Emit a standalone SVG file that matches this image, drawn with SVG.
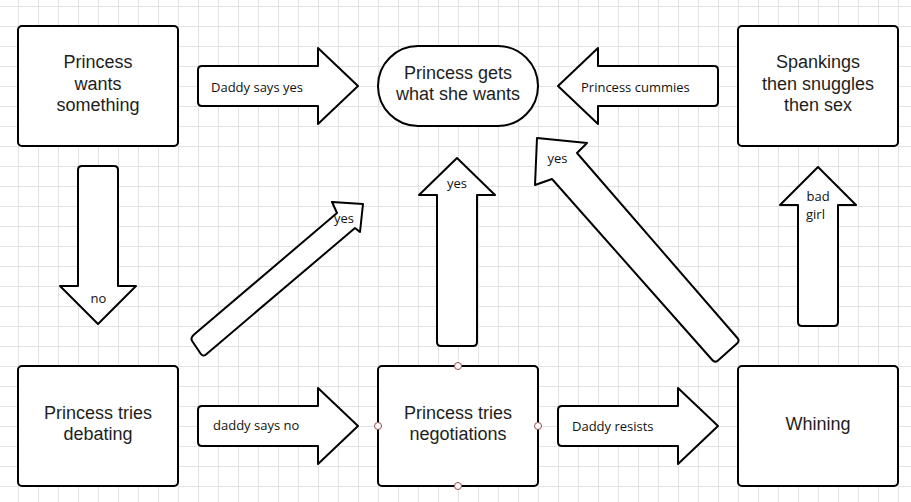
<svg xmlns="http://www.w3.org/2000/svg" width="911" height="502" viewBox="0 0 911 502">
<defs>
<pattern id="grid" patternUnits="userSpaceOnUse" x="18" y="6" width="20" height="20">
<path d="M0.5,0 V20 M0,0.5 H20" fill="none" stroke="#e3e3e3" stroke-width="1"/>
</pattern>
<style>
.box{fill:#fff;stroke:#000;stroke-width:2}
.arrow{fill:#fff;stroke:#000;stroke-width:2;stroke-linejoin:round}
.node{font-family:"Liberation Sans",Arial,sans-serif;font-size:18px;fill:#1e1e1e;text-anchor:middle}
.lbl{font-family:"Open Sans","Noto Sans",sans-serif;font-size:13px;fill:#111}
.pt{fill:#fff;stroke:#9b4a4a;stroke-width:1}
</style>
</defs>
<rect x="0" y="0" width="911" height="502" fill="#fff"/>
<rect x="0" y="0" width="911" height="502" fill="url(#grid)"/>

<g id="connectors">
<path class="arrow" d="M202,66 H318 V48 L358,86 L318,124 V106 H202 Q198,106 198,102 V70 Q198,66 202,66 Z"/>
<text class="lbl" x="211" y="92">Daddy says yes</text>
<path class="arrow" d="M714,66 H598 V48 L558,86 L598,124 V106 H714 Q718,106 718,102 V70 Q718,66 714,66 Z"/>
<text class="lbl" x="581" y="92">Princess cummies</text>
<path class="arrow" d="M78,170 Q78,166 82,166 H114 Q118,166 118,170 V286 H136 L98,324 L60,286 H78 Z"/>
<text class="lbl" x="90.5" y="302.5">no</text>
<path class="arrow" d="M193.8,334.8 L337,213 L332,202 L363,204 L360,232 L355,228 L206,354.4 Q203,357 200.7,353.7 L192.3,341.3 Q190,338 193.8,334.8 Z"/>
<text class="lbl" x="334" y="223">yes</text>
<path class="arrow" d="M437,342 V195 H419 L457,158 L495,195 H477 V342 Q477,346 473,346 H441 Q437,346 437,342 Z"/>
<text class="lbl" x="447" y="188">yes</text>
<path class="arrow" d="M537,138 L587,143 L577,153 L737.4,338 Q740,341 737,343.6 L718,360.4 Q715,363 712.3,360 L552,179 L535,185 Z"/>
<text class="lbl" x="547.5" y="163">yes</text>
<path class="arrow" d="M798,322 V205 H780 L818,167 L856,205 H838 V322 Q838,326 834,326 H802 Q798,326 798,322 Z"/>
<text class="lbl" x="806.5" y="201">bad</text>
<text class="lbl" x="806" y="219">girl</text>
<path class="arrow" d="M202,406 H318 V388 L358,426 L318,464 V446 H202 Q198,446 198,442 V410 Q198,406 202,406 Z"/>
<text class="lbl" x="213" y="430">daddy says no</text>
<path class="arrow" d="M562,406 H678 V388 L718,426 L678,464 V446 H562 Q558,446 558,442 V410 Q558,406 562,406 Z"/>
<text class="lbl" x="572" y="431">Daddy resists</text>
</g>

<g id="wants">
<rect class="box" x="18" y="26" width="160" height="120" rx="4"/>
<text class="node" x="98" y="68">Princess</text>
<text class="node" x="98" y="89.5">wants</text>
<text class="node" x="98" y="111">something</text>
</g>
<g id="gets">
<rect class="box" x="378" y="46" width="160" height="80" rx="40"/>
<text class="node" x="458" y="78.5">Princess gets</text>
<text class="node" x="458" y="100">what she wants</text>
</g>
<g id="spankings">
<rect class="box" x="738" y="26" width="160" height="120" rx="4"/>
<text class="node" x="818" y="68">Spankings</text>
<text class="node" x="818" y="89.5">then snuggles</text>
<text class="node" x="818" y="111">then sex</text>
</g>
<g id="debating">
<rect class="box" x="18" y="366" width="160" height="120" rx="4"/>
<text class="node" x="98" y="418.5">Princess tries</text>
<text class="node" x="98" y="440">debating</text>
</g>
<g id="negotiations">
<rect class="box" x="378" y="366" width="160" height="120" rx="4"/>
<text class="node" x="458" y="418.5">Princess tries</text>
<text class="node" x="458" y="440">negotiations</text>
<circle class="pt" cx="458" cy="366" r="3.5"/>
<circle class="pt" cx="378" cy="426" r="3.5"/>
<circle class="pt" cx="538" cy="426" r="3.5"/>
<circle class="pt" cx="458" cy="486" r="3.5"/>
</g>
<g id="whining">
<rect class="box" x="738" y="366" width="160" height="120" rx="4"/>
<text class="node" x="818" y="430">Whining</text>
</g>
</svg>
